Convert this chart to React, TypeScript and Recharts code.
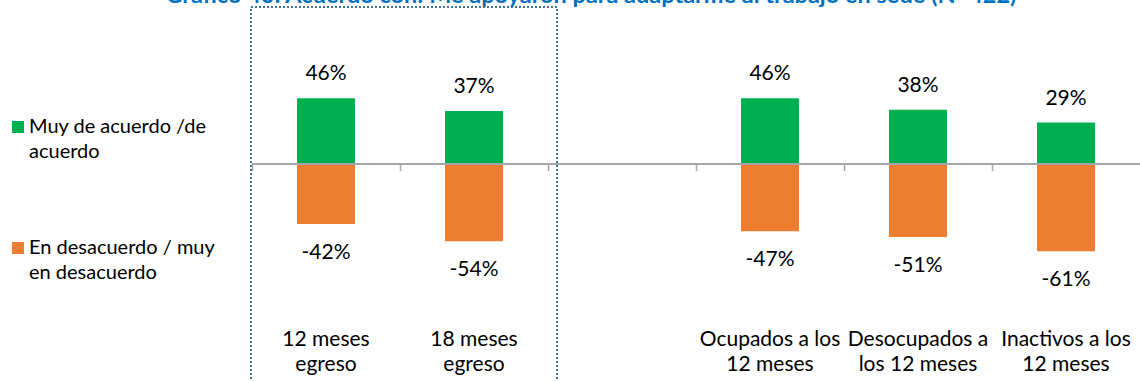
import React from 'react';
import { BarChart, Bar, XAxis, YAxis, ReferenceLine, LabelList, Legend } from 'recharts';

const title = 'Gráfico 40: Acuerdo con: Me apoyaron para adaptarme al trabajo en sede (N=422)';
const categories = [
  '12 meses egreso',
  '18 meses egreso',
  '',
  'Ocupados a los 12 meses',
  'Desocupados a los 12 meses',
  'Inactivos a los 12 meses',
];
const categoryLines = [
  ['12 meses', 'egreso'],
  ['18 meses', 'egreso'],
  [],
  ['Ocupados a los', '12 meses'],
  ['Desocupados a', 'los 12 meses'],
  ['Inactivos a los', '12 meses'],
];
const acuerdo = [46, 37, null, 46, 38, 29];
const desacuerdo = [-42, -54, null, -47, -51, -61];
const seriesNames = ['Muy de acuerdo /de acuerdo', 'En desacuerdo / muy en desacuerdo'];
const legendLines = [
  ['Muy de acuerdo /de', 'acuerdo'],
  ['En desacuerdo / muy', 'en desacuerdo'],
];

const GREEN = '#00B050';
const ORANGE = '#ED7D31';
const FONT = 'Lato, "Open Sans", sans-serif';

const data = categories.map((name, i) => ({
  name,
  acuerdo: acuerdo[i],
  desacuerdo: desacuerdo[i],
}));

const CategoryTick = (props: any) => {
  const { x, y, payload } = props;
  const lines = categoryLines[payload.index] || [];
  return (
    <g>
      {lines.map((l, i) => (
        <text
          key={i}
          x={x}
          y={y + 39 + i * 25}
          textAnchor="middle"
          fill="#000"
          style={{ fontFamily: FONT, fontSize: 21 }}
        >
          {l}
        </text>
      ))}
    </g>
  );
};

const ValueLabel = (props: any) => {
  const { x, y, width, height, value } = props;
  if (value == null) return null;
  const top = Math.min(y, y + height);
  const bottom = Math.max(y, y + height);
  const ty = value >= 0 ? top - 18 : bottom + 35;
  return (
    <text
      x={x + width / 2}
      y={ty}
      textAnchor="middle"
      fill="#000"
      style={{ fontFamily: FONT, fontSize: 21 }}
    >
      {`${value}%`}
    </text>
  );
};

// zero line with category tick marks, like the excel axis
const ZeroAxis = (props: any) => {
  const { x1, x2, y1 } = props;
  const step = (x2 - x1) / categories.length;
  return (
    <g>
      <line x1={x1} x2={x2} y1={y1} y2={y1} stroke="#A6A6A6" strokeWidth={2} />
      {categories.map((_, i) => (
        <line
          key={i}
          x1={x1 + i * step + 0.5}
          x2={x1 + i * step + 0.5}
          y1={y1}
          y2={y1 + 7}
          stroke="#A6A6A6"
          strokeWidth={1.5}
        />
      ))}
    </g>
  );
};

const LegendBox = (props: any) => {
  const items = props.payload || [];
  return (
    <svg width={240} height={300}>
      {items.map((it: any) => {
        const k = seriesNames.indexOf(it.value);
        if (k < 0) return null;
        const base = k === 0 ? 121 : 242;
        return (
          <g key={k}>
            <rect x={12} y={base} width={12} height={12} fill={it.color} />
            {legendLines[k].map((l, j) => (
              <text
                key={j}
                x={29}
                y={base + 12 + j * 25}
                fill="#000"
                style={{ fontFamily: FONT, fontSize: 20 }}
              >
                {l}
              </text>
            ))}
          </g>
        );
      })}
    </svg>
  );
};

export default function App() {
  return (
    <div
      style={{
        position: 'absolute',
        left: 0,
        top: 0,
        width: 1140,
        height: 381,
        overflow: 'hidden',
        background: '#fff',
      }}
    >
      <BarChart
        width={1140}
        height={381}
        data={data}
        stackOffset="sign"
        barSize={58}
        margin={{ top: 21, right: 0, bottom: 14, left: 252 }}
      >
        <YAxis hide domain={[-100, 100]} />
        <XAxis
          dataKey="name"
          axisLine={false}
          tickLine={false}
          tickSize={0}
          tickMargin={0}
          height={60}
          interval={0}
          tick={<CategoryTick />}
        />
        <Legend
          layout="vertical"
          align="center"
          verticalAlign="middle"
          content={<LegendBox />}
          wrapperStyle={{ position: 'absolute', left: 0, top: 0, width: 240, height: 300 }}
        />
        <Bar dataKey="acuerdo" name={seriesNames[0]} stackId="s" fill={GREEN} isAnimationActive={false}>
          <LabelList dataKey="acuerdo" content={<ValueLabel />} />
        </Bar>
        <Bar dataKey="desacuerdo" name={seriesNames[1]} stackId="s" fill={ORANGE} isAnimationActive={false}>
          <LabelList dataKey="desacuerdo" content={<ValueLabel />} />
        </Bar>
        <ReferenceLine y={0} shape={<ZeroAxis />} />
      </BarChart>
      <svg
        width={1140}
        height={381}
        style={{ position: 'absolute', left: 0, top: 0, pointerEvents: 'none' }}
      >
        <text
          x={591}
          y={3}
          textAnchor="middle"
          fill="#0070C0"
          style={{ fontFamily: FONT, fontSize: 23.5, fontWeight: 700 }}
        >
          {title}
        </text>
        <rect
          x={251}
          y={7}
          width={306}
          height={390}
          fill="none"
          stroke="#41719C"
          strokeWidth={2}
          strokeDasharray="2 2"
        />
      </svg>
    </div>
  );
}
